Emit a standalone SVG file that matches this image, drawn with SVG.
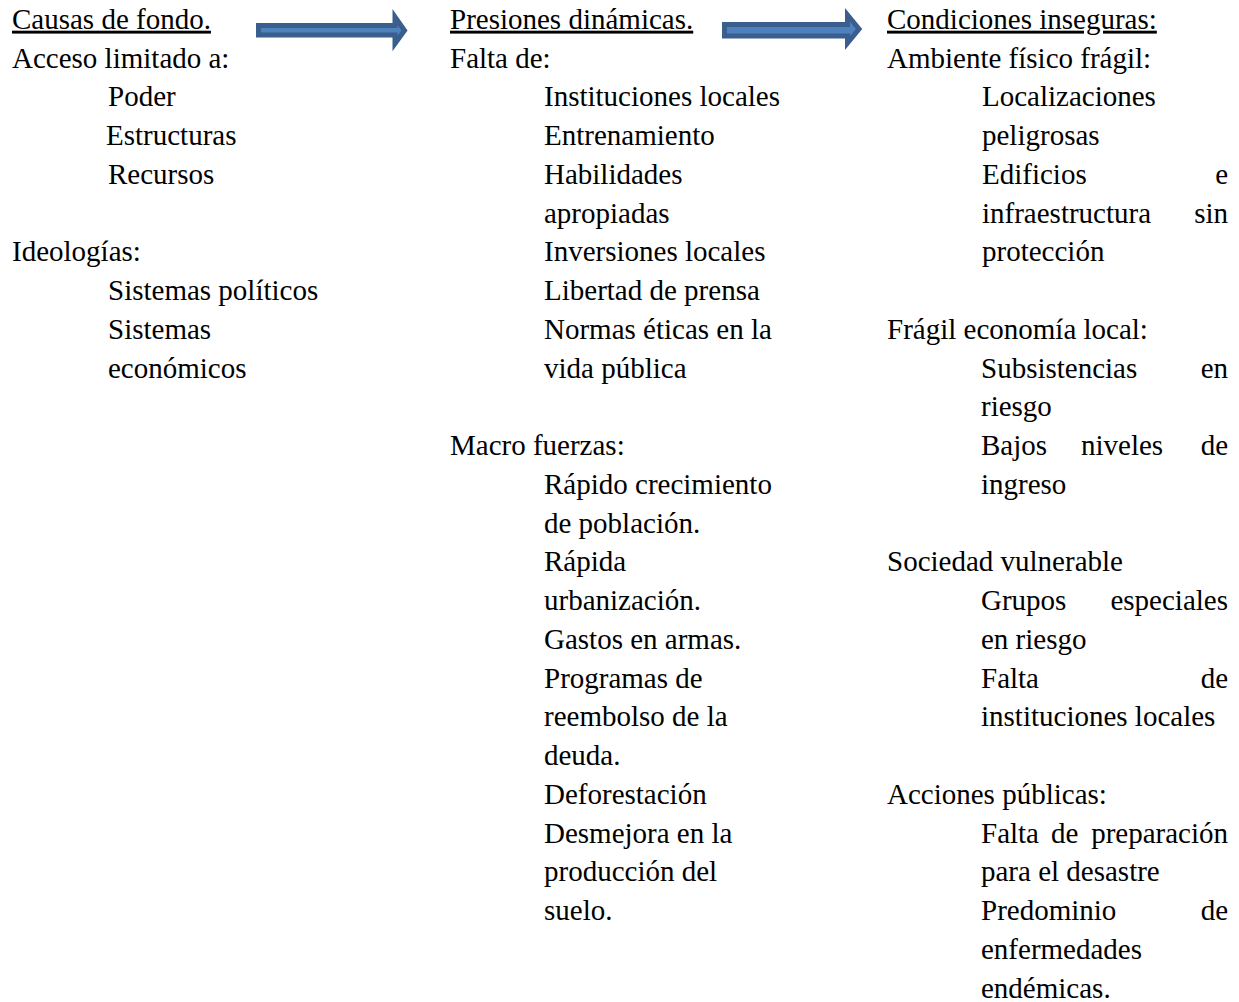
<svg xmlns="http://www.w3.org/2000/svg" width="1239" height="1002" viewBox="0 0 1239 1002">
<style>
text{font-family:"Liberation Serif","Times New Roman",serif;font-size:29px;fill:#000}
.u{text-decoration:underline}
.e{text-anchor:end}
.arrow{fill:#4F81BD;stroke:#3A5F8E;stroke-width:5;stroke-linejoin:miter}
</style>
<rect width="1239" height="1002" fill="#fff"/>
<g id="connectors">
<polygon class="arrow" points="258.5,25.5 395,25.5 395,17 404.5,30.5 395,43.5 395,35 258.5,35"/>
<polygon class="arrow" points="724.5,24.5 847.5,24.5 847.5,15 859,29 847.5,43 847.5,36 724.5,36"/>
</g>
<g id="causas">
<text x="12" y="28.7" class="u">Causas de fondo.</text>
<text x="12" y="67.5">Acceso limitado a:</text>
<text x="108" y="106.2">Poder</text>
<text x="106" y="145">Estructuras</text>
<text x="108" y="183.7">Recursos</text>
<text x="12" y="261.2">Ideologías:</text>
<text x="108" y="300">Sistemas políticos</text>
<text x="108" y="338.7">Sistemas</text>
<text x="108" y="377.5">económicos</text>
</g>
<g id="presiones">
<text x="450" y="28.7" class="u">Presiones dinámicas.</text>
<text x="450" y="67.5">Falta de:</text>
<text x="544" y="106.2">Instituciones locales</text>
<text x="544" y="145">Entrenamiento</text>
<text x="544" y="183.7">Habilidades</text>
<text x="544" y="222.5">apropiadas</text>
<text x="544" y="261.2">Inversiones locales</text>
<text x="544" y="300">Libertad de prensa</text>
<text x="544" y="338.7">Normas éticas en la</text>
<text x="544" y="377.5">vida pública</text>
<text x="450" y="455">Macro fuerzas:</text>
<text x="544" y="493.7">Rápido crecimiento</text>
<text x="544" y="532.5">de población.</text>
<text x="544" y="571.2">Rápida</text>
<text x="544" y="610">urbanización.</text>
<text x="544" y="648.7">Gastos en armas.</text>
<text x="544" y="687.5">Programas de</text>
<text x="544" y="726.2">reembolso de la</text>
<text x="544" y="765">deuda.</text>
<text x="544" y="803.7">Deforestación</text>
<text x="544" y="842.5">Desmejora en la</text>
<text x="544" y="881.2">producción del</text>
<text x="544" y="920">suelo.</text>
</g>
<g id="condiciones">
<text x="887" y="28.7" class="u">Condiciones inseguras:</text>
<text x="887" y="67.5">Ambiente físico frágil:</text>
<text x="982" y="106.2">Localizaciones</text>
<text x="982" y="145">peligrosas</text>
<text x="982" y="183.7">Edificios</text>
<text x="1228" y="183.7" class="e">e</text>
<text x="982" y="222.5">infraestructura</text>
<text x="1228" y="222.5" class="e">sin</text>
<text x="982" y="261.2">protección</text>
<text x="887" y="338.7">Frágil economía local:</text>
<text x="981" y="377.5">Subsistencias</text>
<text x="1228" y="377.5" class="e">en</text>
<text x="981" y="416.2">riesgo</text>
<text x="981" y="455">Bajos</text>
<text x="1081" y="455">niveles</text>
<text x="1228" y="455" class="e">de</text>
<text x="981" y="493.7">ingreso</text>
<text x="887" y="571.2">Sociedad vulnerable</text>
<text x="981" y="610">Grupos</text>
<text x="1228" y="610" class="e">especiales</text>
<text x="981" y="648.7">en riesgo</text>
<text x="981" y="687.5">Falta</text>
<text x="1228" y="687.5" class="e">de</text>
<text x="981" y="726.2">instituciones locales</text>
<text x="887" y="803.7">Acciones públicas:</text>
<text x="981" y="842.5">Falta</text>
<text x="1051" y="842.5">de</text>
<text x="1228" y="842.5" class="e">preparación</text>
<text x="981" y="881.2">para el desastre</text>
<text x="981" y="920">Predominio</text>
<text x="1228" y="920" class="e">de</text>
<text x="981" y="958.7">enfermedades</text>
<text x="981" y="997.5">endémicas.</text>
</g>
</svg>
